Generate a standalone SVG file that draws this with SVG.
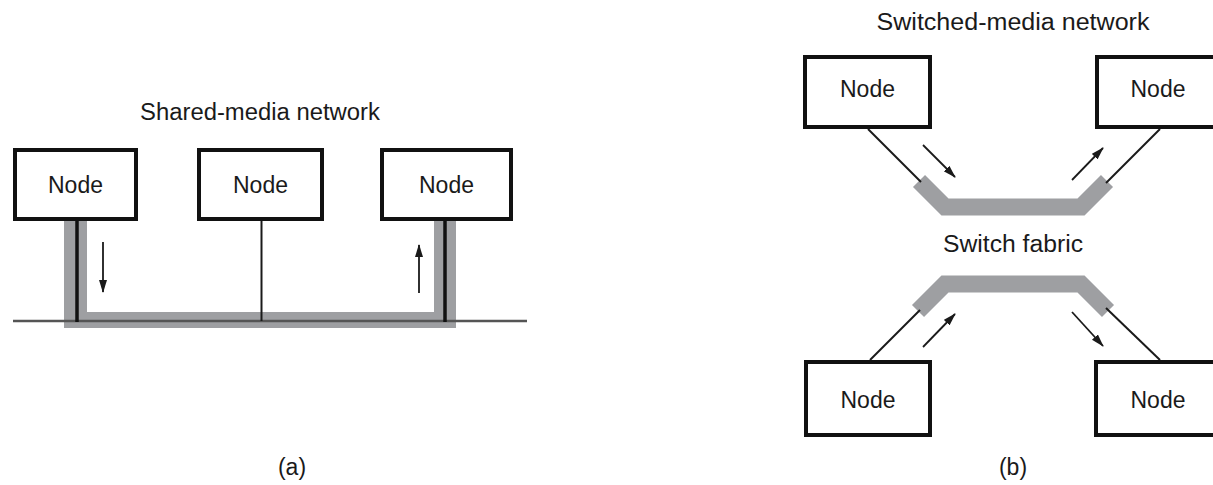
<svg xmlns="http://www.w3.org/2000/svg" width="1213" height="485" viewBox="0 0 1213 485">
  <style>
    .box { fill: #fff; stroke: #111; stroke-width: 4; }
    .lbl { font-family: "Liberation Sans", Arial, sans-serif; font-size: 23px; fill: #1a1a1a; text-anchor: middle; }
    .wire { stroke: #1a1a1a; stroke-width: 2; fill: none; }
    .arrow { stroke: #1a1a1a; stroke-width: 1.8; fill: none; marker-end: url(#head); }
    .band { fill: none; stroke: #9e9fa2; stroke-width: 17; stroke-linejoin: miter; stroke-linecap: butt; }
  </style>
  <defs>
    <marker id="head" markerUnits="userSpaceOnUse" markerWidth="14" markerHeight="10" refX="12" refY="4" orient="auto">
      <path d="M0,0 L13,4 L0,8 Z" fill="#1a1a1a"/>
    </marker>
  </defs>

  <rect width="1213" height="485" fill="#fff"/>

  <!-- (a) shared-media network -->
  <text class="lbl" x="260" y="120" textLength="240" lengthAdjust="spacingAndGlyphs">Shared-media network</text>

  <g id="medium-a">
    <!-- shared medium path shown in gray -->
    <path d="M64,220 L64,328 L456,328 L456,220 L434,220 L434,312 L87,312 L87,220 Z" fill="#9e9fa2"/>
    <!-- bus line -->
    <line x1="13" y1="321" x2="527" y2="321" stroke="#555" stroke-width="2.5"/>
  </g>

  <g id="connectors-a">
    <line x1="77" y1="220" x2="77" y2="322" stroke="#111" stroke-width="3.5"/>
    <line x1="445" y1="220" x2="445" y2="322" stroke="#111" stroke-width="3.5"/>
    <line class="wire" x1="261.5" y1="220" x2="261.5" y2="321"/>
    <line class="arrow" x1="103" y1="242" x2="103" y2="292"/>
    <line class="arrow" x1="419" y1="293" x2="419" y2="245"/>
  </g>

  <g id="node-a1">
    <rect class="box" x="15" y="150" width="121" height="69"/>
    <text class="lbl" x="75.5" y="193">Node</text>
  </g>
  <g id="node-a2">
    <rect class="box" x="199" y="150" width="123" height="69"/>
    <text class="lbl" x="260.5" y="193">Node</text>
  </g>
  <g id="node-a3">
    <rect class="box" x="382" y="150" width="129" height="69"/>
    <text class="lbl" x="446.5" y="193">Node</text>
  </g>

  <text class="lbl" x="292" y="475">(a)</text>

  <!-- (b) switched-media network -->
  <text class="lbl" x="1013" y="30" textLength="273" lengthAdjust="spacingAndGlyphs">Switched-media network</text>

  <g id="fabric">
    <polyline class="band" points="919,181 945,207 1081,207 1107,181"/>
    <polyline class="band" points="918,311 945,284 1081,284 1108,311"/>
    <text class="lbl" x="1013" y="252" textLength="140" lengthAdjust="spacingAndGlyphs">Switch fabric</text>
  </g>

  <g id="connectors-b">
    <line class="wire" x1="868" y1="129" x2="921" y2="182"/>
    <line class="wire" x1="1160" y1="129" x2="1106" y2="183"/>
    <line class="wire" x1="870" y1="360" x2="920" y2="310"/>
    <line class="wire" x1="1160" y1="360" x2="1106" y2="308"/>
    <line class="arrow" x1="923" y1="145" x2="955" y2="177"/>
    <line class="arrow" x1="1072" y1="180" x2="1103" y2="148"/>
    <line class="arrow" x1="923" y1="347" x2="955" y2="314"/>
    <line class="arrow" x1="1072" y1="312" x2="1103" y2="346"/>
  </g>

  <g id="node-b1">
    <rect class="box" x="805" y="57" width="125" height="70"/>
    <text class="lbl" x="867.5" y="97">Node</text>
  </g>
  <g id="node-b2">
    <rect class="box" x="1097" y="57" width="125" height="70"/>
    <text class="lbl" x="1158" y="97">Node</text>
  </g>
  <g id="node-b3">
    <rect class="box" x="806" y="362" width="124" height="73"/>
    <text class="lbl" x="868" y="408">Node</text>
  </g>
  <g id="node-b4">
    <rect class="box" x="1096" y="362" width="126" height="73"/>
    <text class="lbl" x="1158" y="408">Node</text>
  </g>

  <text class="lbl" x="1013" y="475">(b)</text>
</svg>
